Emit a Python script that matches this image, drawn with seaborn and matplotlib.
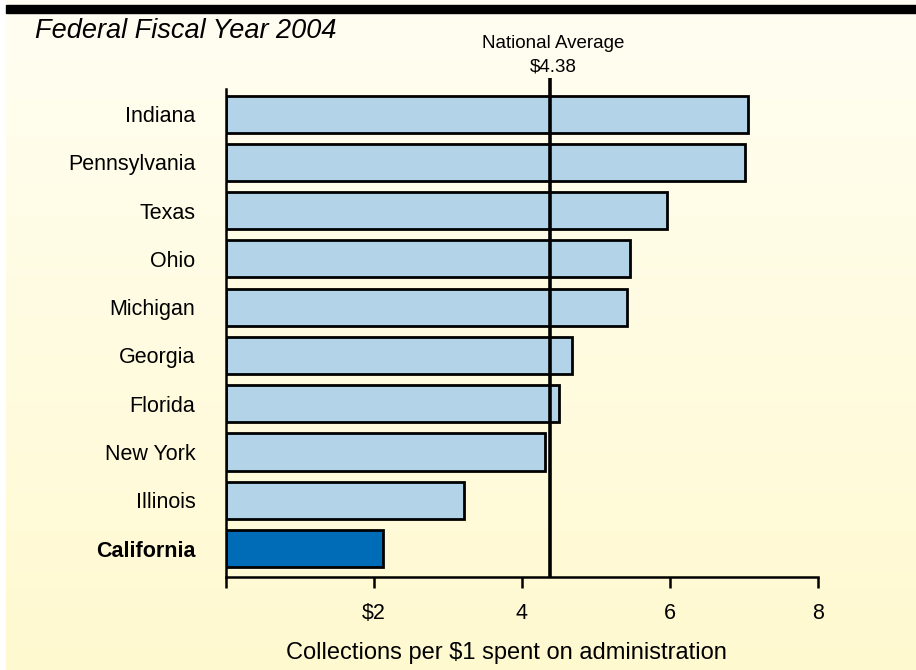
import numpy as np
import matplotlib
matplotlib.use("Agg")
import matplotlib.pyplot as plt
from matplotlib.patches import Rectangle
import seaborn as sns

states = ["Indiana", "Pennsylvania", "Texas", "Ohio", "Michigan",
          "Georgia", "Florida", "New York", "Illinois", "California"]
collections = [7.05, 7.02, 5.96, 5.46, 5.42, 4.68, 4.50, 4.31, 3.22, 2.12]
national_average = 4.38
xticks = [0, 2, 4, 6, 8]
xtick_labels = ["", "$2", "4", "6", "8"]

LIGHT = "#B3D3E8"
DARK = "#006BB6"
bar_colors = [DARK if s == "California" else LIGHT for s in states]

sns.set_theme(style="white")
plt.rcParams["font.family"] = ["Liberation Sans", "DejaVu Sans"]
plt.rcParams["text.color"] = "black"
plt.rcParams["xtick.color"] = "black"
plt.rcParams["ytick.color"] = "black"
plt.rcParams["axes.labelcolor"] = "black"

fig = plt.figure(figsize=(9.16, 6.70), dpi=100)
fig.patch.set_facecolor("white")

# soft cream-to-yellow backdrop
bg = fig.add_axes([6 / 916, 0, 1 - 6 / 916, 1], zorder=-10)
top = np.array([255, 254, 242]) / 255
bot = np.array([255, 249, 208]) / 255
t = np.linspace(0, 1, 256)[:, None]
grad = (top[None, :] * (1 - t) + bot[None, :] * t)[:, None, :]
bg.imshow(grad, aspect="auto", extent=[0, 1, 0, 1])
bg.set_axis_off()

# black header rule
fig.patches.append(Rectangle((6 / 916, 1 - 13 / 670), 1, 8 / 670,
                             transform=fig.transFigure, color="black", zorder=5))

ax = fig.add_axes([226 / 916, 1 - 577 / 670, (818 - 226) / 916, (577 - 89) / 670])
ax.set_facecolor("none")

sns.barplot(x=collections, y=states, hue=states, palette=bar_colors,
            legend=False, orient="h", width=0.77, edgecolor="black",
            linewidth=2.0, saturation=1, ax=ax)

ax.set_xlim(0, 8)
ax.set_ylim(9.59, -0.52)

ax.plot([national_average, national_average], [9.59, -0.75], color="black",
        lw=2.6, clip_on=False, zorder=6, solid_capstyle="butt")
ax.text(national_average + 0.04, -0.98, "$4.38", ha="center", va="center",
        fontsize=13.5, clip_on=False)
ax.text(national_average + 0.04, -1.46, "National Average", ha="center",
        va="center", fontsize=13.5, clip_on=False)

for side in ["top", "right"]:
    ax.spines[side].set_visible(False)
for side in ["left", "bottom"]:
    ax.spines[side].set_color("black")
    ax.spines[side].set_linewidth(1.8)

ax.set_xticks(xticks)
ax.set_xticklabels(xtick_labels)
ax.tick_params(axis="x", direction="out", length=8, width=1.8, color="black",
               labelsize=15.5, pad=11, bottom=True)
ax.tick_params(axis="y", length=0, labelsize=15.5, pad=22)
for lbl in ax.get_yticklabels():
    if lbl.get_text() == "California":
        lbl.set_fontweight("bold")
ax.set_ylabel("")
ax.set_xlabel("Collections per $1 spent on administration", fontsize=17)
ax.xaxis.set_label_coords(0.473, -0.155)
ax.xaxis.label.set_va("center")

fig.text(35 / 916, 1 - 31 / 670, "Federal Fiscal Year 2004", fontsize=19.5,
         style="italic", ha="left", va="center")

fig.savefig("out.png", dpi=100)
